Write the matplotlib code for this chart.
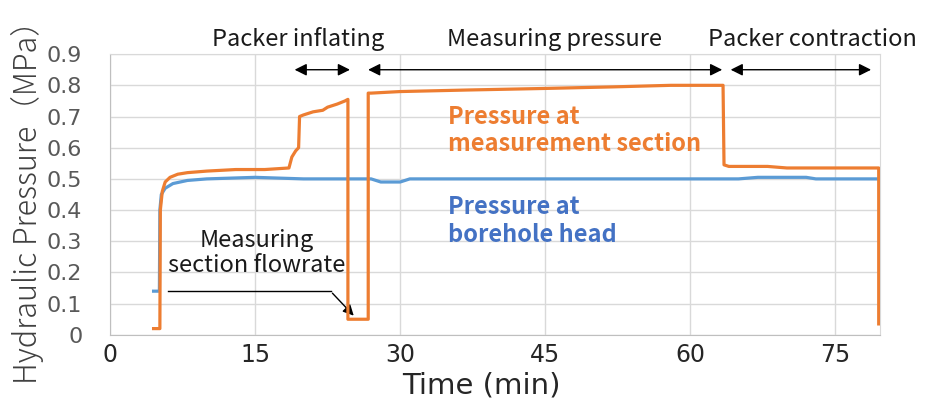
import matplotlib.pyplot as plt

# Data
t_section = [4.5, 5.15, 5.2, 5.4, 5.7, 6.2, 7, 8, 10, 13, 16, 18.5, 18.8, 19.2, 19.5, 19.6,
             20, 21, 22, 22.5, 23.5, 24.3, 24.6, 24.6, 26.7, 26.7, 27, 30, 37, 45, 52, 58,
             63.4, 63.5, 64, 68, 70, 75, 79.5, 79.5]
p_section = [0.02, 0.02, 0.40, 0.46, 0.49, 0.505, 0.515, 0.52, 0.525, 0.53, 0.53, 0.535,
             0.57, 0.59, 0.60, 0.70, 0.705, 0.715, 0.72, 0.73, 0.74, 0.75, 0.755, 0.05,
             0.05, 0.775, 0.775, 0.78, 0.785, 0.79, 0.795, 0.80, 0.80, 0.545, 0.54, 0.54,
             0.535, 0.535, 0.535, 0.035]

t_head = [4.5, 5.1, 5.15, 5.3, 5.7, 6.5, 8, 10, 15, 20, 25, 27, 28, 30, 31, 35, 45, 55,
          65, 67, 72, 73, 79.5]
p_head = [0.14, 0.14, 0.40, 0.45, 0.47, 0.485, 0.495, 0.50, 0.505, 0.50, 0.50, 0.50,
          0.49, 0.49, 0.50, 0.50, 0.50, 0.50, 0.50, 0.505, 0.505, 0.50, 0.50]

x_ticks = [0, 15, 30, 45, 60, 75]
y_ticks = [0, 0.1, 0.2, 0.3, 0.4, 0.5, 0.6, 0.7, 0.8, 0.9]
y_labels = ["0", "0.1", "0.2", "0.3", "0.4", "0.5", "0.6", "0.7", "0.8", "0.9"]

# stages: (label, arrow start, arrow end, label centre)
stages = [("Packer inflating", 18.8, 25.1, 19.4),
          ("Measuring pressure", 26.4, 63.6, 46.0),
          ("Packer contraction", 63.9, 79.0, 72.6)]

orange = "#ED7D31"
blue = "#5B9BD5"
jp = ["Noto Sans CJK JP", "DejaVu Sans"]

fig = plt.figure(figsize=(9.25, 4.01), dpi=100)
ax = fig.add_axes([0.119, 0.165, 0.832, 0.700])

ax.plot(t_head, p_head, color=blue, lw=2.3, zorder=3)
ax.plot(t_section, p_section, color=orange, lw=2.3, zorder=4)

ax.set_xlim(0, 79.6)
ax.set_ylim(0, 0.9)
ax.set_xticks(x_ticks)
ax.set_yticks(y_ticks)
ax.set_yticklabels(y_labels)
ax.grid(True, color="#D9D9D9", lw=1)
ax.set_axisbelow(True)
for s in ax.spines.values():
    s.set_color("#D9D9D9")
ax.spines["bottom"].set_color("#BFBFBF")
ax.spines["left"].set_color("#BFBFBF")
ax.tick_params(axis="y", length=0, labelsize=16, colors="#595959", pad=20)
ax.tick_params(axis="x", length=0, labelsize=17, colors="#262626", pad=6)

ax.set_xlabel("Time (min)", fontsize=21, color="#262626")
ax.xaxis.set_label_coords(0.482, -0.13)
ax.set_ylabel("Hydraulic Pressure（MPa）", fontsize=22, family=jp, fontweight="light",
              color="#404040", labelpad=2)

# stage arrows and labels
for name, t0, t1, tc in stages:
    ax.annotate("", xy=(t0, 0.85), xytext=(t1, 0.85),
                arrowprops=dict(arrowstyle="<|-|>", color="black", lw=1, mutation_scale=18),
                annotation_clip=False)
    ax.text(tc, 0.91, name, ha="center", va="bottom", fontsize=17,
            family=jp, color="#1a1a1a", clip_on=False)

ax.text(35, 0.655, "Pressure at\nmeasurement section", color=orange, fontsize=17,
        fontweight="bold", family=jp, ha="left", va="center", linespacing=1.15)
ax.text(35, 0.365, "Pressure at\nborehole head", color="#4472C4", fontsize=17,
        fontweight="bold", family=jp, ha="left", va="center", linespacing=1.2)

ax.text(15.2, 0.262, "Measuring\nsection flowrate", color="#1a1a1a", fontsize=17,
        family=jp, ha="center", va="center", linespacing=1.15)
ax.plot([6, 22.8], [0.14, 0.14], color="black", lw=1, zorder=5)
ax.annotate("", xy=(25.4, 0.055), xytext=(22.8, 0.14),
            arrowprops=dict(arrowstyle="-|>", color="black", lw=1, mutation_scale=16))

fig.savefig("out.png", dpi=100)
